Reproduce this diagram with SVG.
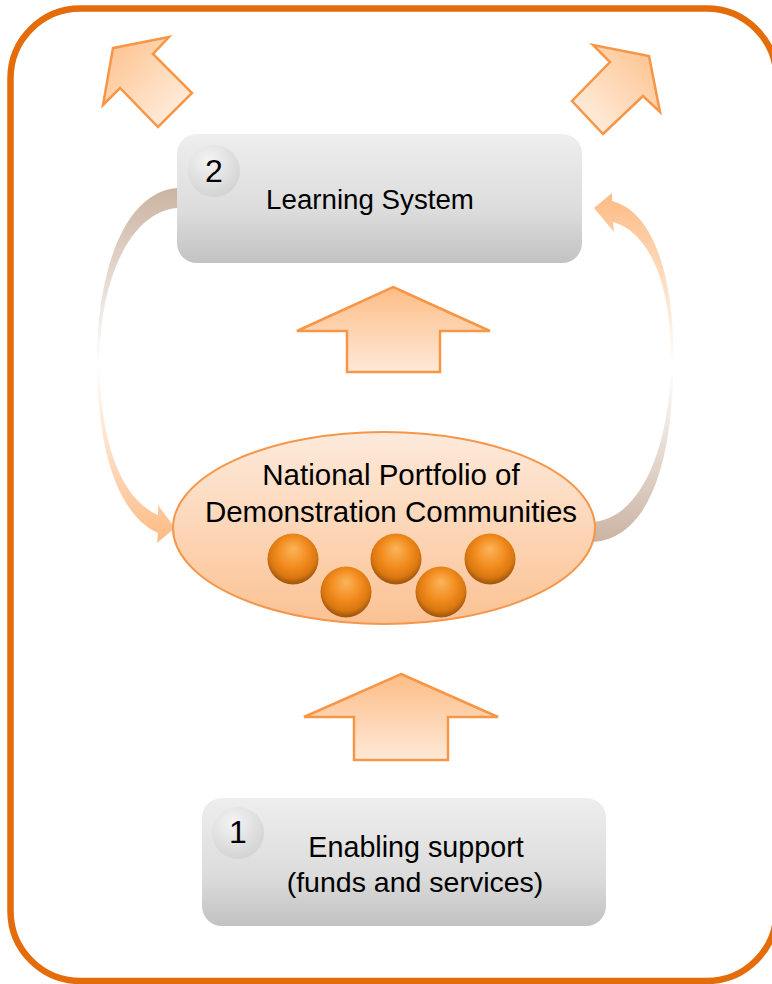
<svg xmlns="http://www.w3.org/2000/svg" width="772" height="984" viewBox="0 0 772 984">
  <defs>
    <linearGradient id="grayBox" x1="0" y1="0" x2="0" y2="1">
      <stop offset="0" stop-color="#eeeeee"/>
      <stop offset="0.6" stop-color="#dcdcdc"/>
      <stop offset="1" stop-color="#c2c2c2"/>
    </linearGradient>
    <radialGradient id="badge" cx="0.4" cy="0.3" r="0.8">
      <stop offset="0" stop-color="#f4f4f4"/>
      <stop offset="1" stop-color="#cfcfcf"/>
    </radialGradient>
    <linearGradient id="upArrow" x1="0" y1="0" x2="0" y2="1">
      <stop offset="0" stop-color="#fdbd86"/>
      <stop offset="1" stop-color="#fee9d8"/>
    </linearGradient>
    <linearGradient id="diagLeft" x1="0" y1="0" x2="1" y2="1">
      <stop offset="0" stop-color="#fdbf88"/>
      <stop offset="1" stop-color="#fff4ea"/>
    </linearGradient>
    <linearGradient id="diagRight" x1="1" y1="0" x2="0" y2="1">
      <stop offset="0" stop-color="#fdbf88"/>
      <stop offset="1" stop-color="#fff4ea"/>
    </linearGradient>
    <linearGradient id="ellipseFill" x1="0" y1="0" x2="0" y2="1">
      <stop offset="0" stop-color="#fdeadb"/>
      <stop offset="1" stop-color="#fbc293"/>
    </linearGradient>
    <radialGradient id="ball" cx="0.5" cy="0.42" r="0.55" fx="0.5" fy="0.3">
      <stop offset="0" stop-color="#fbb55a"/>
      <stop offset="0.55" stop-color="#f28b1e"/>
      <stop offset="0.85" stop-color="#d9770f"/>
      <stop offset="1" stop-color="#a65a10"/>
    </radialGradient>
    <linearGradient id="curveDown" x1="0" y1="0" x2="0" y2="1">
      <stop offset="0" stop-color="#cbb3a2"/>
      <stop offset="0.5" stop-color="#ffffff"/>
      <stop offset="1" stop-color="#fdbb84"/>
    </linearGradient>
    <linearGradient id="curveUp" x1="0" y1="0" x2="0" y2="1">
      <stop offset="0" stop-color="#fdbb84"/>
      <stop offset="0.5" stop-color="#ffffff"/>
      <stop offset="1" stop-color="#cbb3a2"/>
    </linearGradient>
    <style>
      .label { font-family: "Liberation Sans", Arial, sans-serif; fill: #000000; text-anchor: middle; }
      .num { font-family: "Liberation Sans", Arial, sans-serif; font-size: 32px; fill: #000000; text-anchor: middle; }
      .block { stroke: #f79646; stroke-width: 2.5; stroke-linejoin: miter; }
      .ball { fill: url(#ball); }
    </style>
  </defs>

  <!-- outer frame -->
  <rect id="frame" x="10.5" y="8.5" width="766" height="972.5" rx="70" ry="70" fill="#ffffff" stroke="#e46c0a" stroke-width="6.5"/>

  <!-- outward arrows at the top -->
  <g id="arrow-out-left">
    <polygon class="block" fill="url(#diagLeft)" points="113,48 169,37 153,54 192,93 158,127 120,88 103,105"/>
  </g>
  <g id="arrow-out-right">
    <polygon class="block" fill="url(#diagRight)" points="649,56 660,112 643,96 603,134 572,101 610,62 593,45"/>
  </g>

  <!-- connectors -->
  <g id="connectors">
    <!-- feedback loop, left side: learning system down to the portfolio -->
    <path fill="url(#curveDown)" d="M177,188 C125,192 97,270 97,360 C97,450 118,515 158,533 L157,543 L175,528 L158,505 L158,515 C124,500 100,450 99.5,360 C100,280 130,212 177,208 Z"/>
    <!-- feedback loop, right side: portfolio up to the learning system -->
    <path fill="url(#curveUp)" d="M593,522 C640,518 670,450 671,360 C671,280 648,232 613,222 L614,232 L594,208 L612,193 L612,201 C655,212 674,280 673.5,360 C673,460 650,538 593,542 Z"/>
    <!-- upward block arrows -->
    <polygon class="block" fill="url(#upArrow)" points="393,287 490,331 440,331 440,372 347,372 347,331 297,331"/>
    <polygon class="block" fill="url(#upArrow)" points="401,674 498,717 448,717 448,760 354,760 354,717 304,717"/>
  </g>

  <!-- node 2: learning system -->
  <g id="learning-system">
    <rect x="177" y="134" width="405" height="129" rx="20" ry="20" fill="url(#grayBox)"/>
    <circle cx="214" cy="171" r="26" fill="url(#badge)"/>
    <text class="num" x="214" y="182">2</text>
    <text class="label" x="370" y="209" font-size="27.7">Learning System</text>
  </g>

  <!-- portfolio of demonstration communities -->
  <g id="portfolio">
    <ellipse cx="384" cy="528" rx="211" ry="96" fill="url(#ellipseFill)" stroke="#f5964a" stroke-width="2"/>
    <text class="label" x="391" y="485" font-size="29.5">National Portfolio of</text>
    <text class="label" x="391" y="522" font-size="29.5">Demonstration Communities</text>
    <circle class="ball" cx="293" cy="559" r="25.5"/>
    <circle class="ball" cx="346" cy="592" r="25.5"/>
    <circle class="ball" cx="396" cy="559" r="25.5"/>
    <circle class="ball" cx="441" cy="592" r="25.5"/>
    <circle class="ball" cx="490" cy="559" r="25.5"/>
  </g>

  <!-- node 1: enabling support -->
  <g id="enabling-support">
    <rect x="202" y="798" width="404" height="128" rx="20" ry="20" fill="url(#grayBox)"/>
    <circle cx="238" cy="833" r="26" fill="url(#badge)"/>
    <text class="num" x="238" y="843">1</text>
    <text class="label" x="416" y="857" font-size="28.7">Enabling support</text>
    <text class="label" x="415" y="892" font-size="28.5">(funds and services)</text>
  </g>
</svg>
